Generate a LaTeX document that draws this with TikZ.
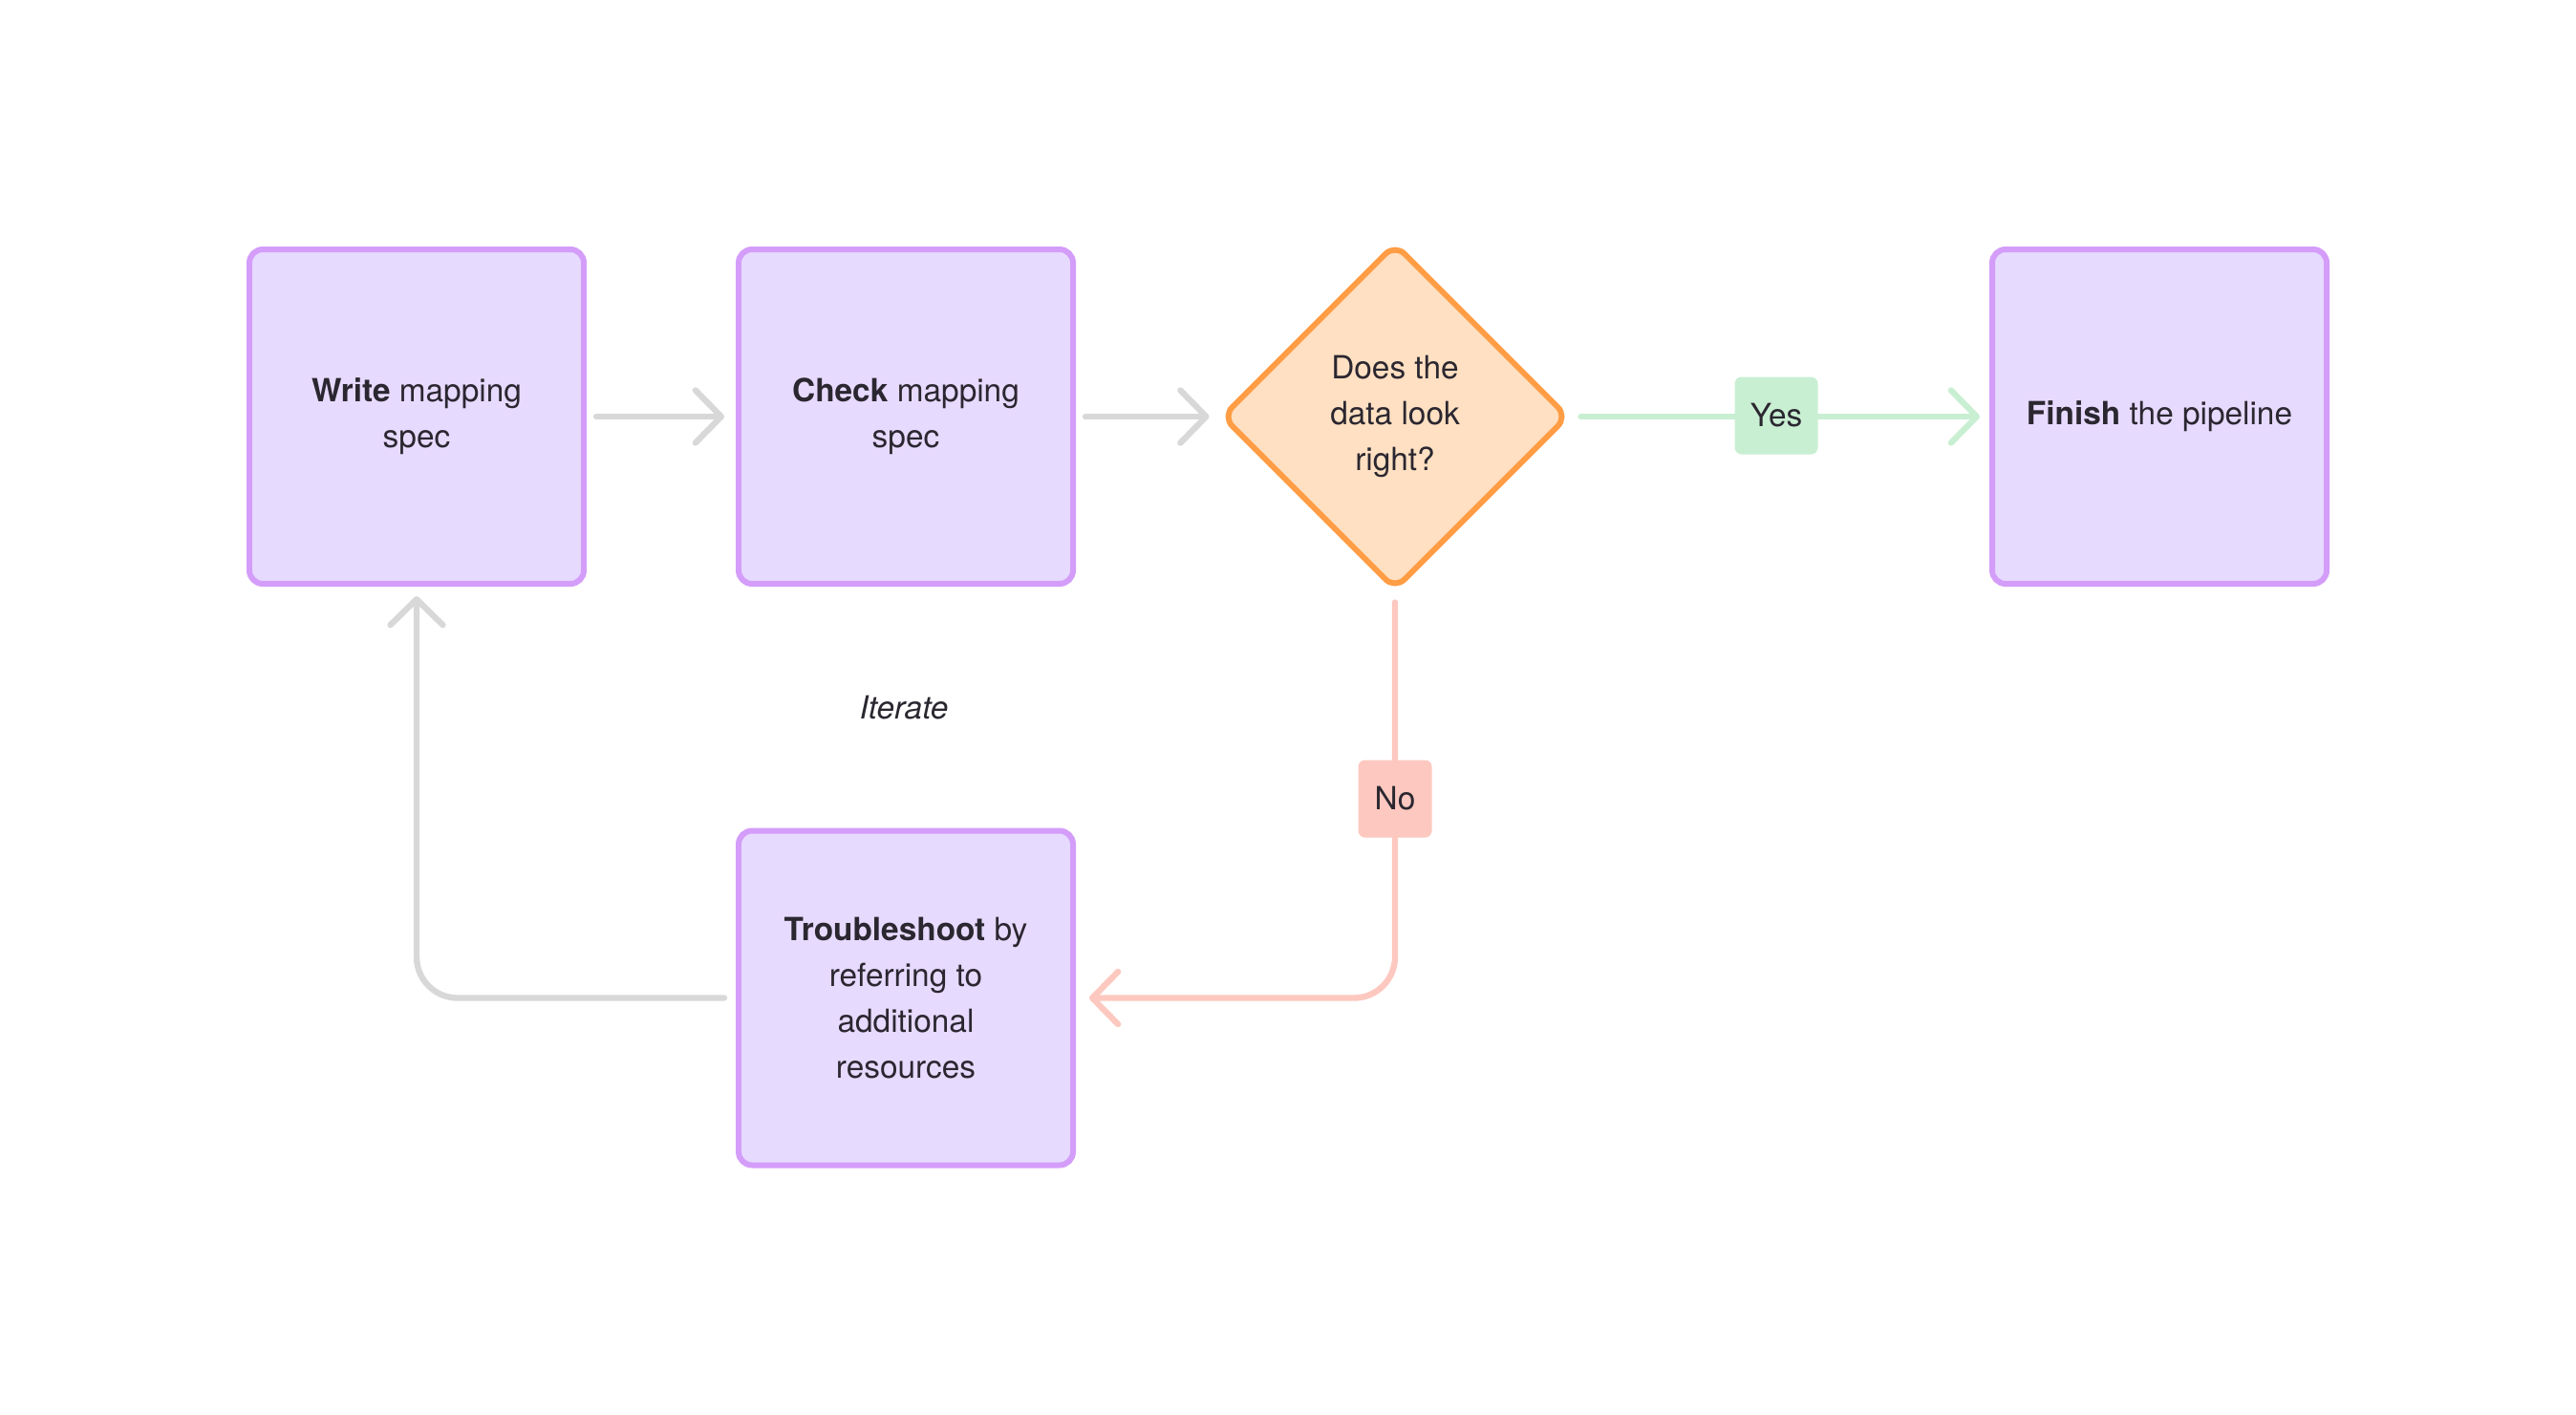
\documentclass[tikz,border=0pt]{standalone}
\usepackage{fontspec}
\setmainfont{TeX Gyre Heros}
\usetikzlibrary{arrows.meta,shapes.geometric}
\definecolor{boxfill}{HTML}{E7DAFF}
\definecolor{boxline}{HTML}{D49DF9}
\definecolor{askfill}{HTML}{FFE0C2}
\definecolor{askline}{HTML}{FF9D45}
\definecolor{yesfill}{HTML}{C9EFD3}
\definecolor{nofill}{HTML}{FDC8BF}
\definecolor{flowgray}{HTML}{D8D8D8}
\definecolor{ink}{HTML}{2B2730}
\begin{document}
\begin{tikzpicture}[
  stepbox/.style={draw=boxline,fill=boxfill,line width=1.7pt,rounded corners=4pt,
    minimum width=3.5cm,minimum height=3.5cm,align=center,text=ink,
    font=\fontsize{9.5}{13.7}\selectfont},
  askbox/.style={diamond,draw=askline,fill=askfill,line width=1.7pt,rounded corners=4pt,
    minimum width=3.63cm,minimum height=3.63cm,align=center,text=ink,
    font=\fontsize{9.5}{13.7}\selectfont},
  tag/.style={rounded corners=2pt,minimum height=0.81cm,text=ink,
    font=\fontsize{9.5}{13.7}\selectfont},
  flow/.style={line width=1.8pt,line cap=round,
    -{Straight Barb[length=0.27cm,width=0.55cm,line cap=round,line join=round]}}]
\fill[white] (0,0) rectangle (26.96,-14.80);
\useasboundingbox (0,0) rectangle (26.96,-14.80);
\node[stepbox] (write) at (4.36,-4.36) {\textbf{Write} mapping\\spec};
\node[stepbox] (check) at (9.48,-4.36) {\textbf{Check} mapping\\spec};
\node[askbox] (decide) at (14.60,-4.36) {Does the\\data look\\right?};
\node[stepbox] (finish) at (22.60,-4.36) {\textbf{Finish} the pipeline};
\node[stepbox] (trouble) at (9.48,-10.445) {\textbf{Troubleshoot} by\\referring to\\additional\\resources};
\node[text=ink,font=\fontsize{9.5}{13.7}\selectfont\itshape] (iterate) at (9.46,-7.41) {Iterate};
% connectors
\draw[flow,flowgray] ([xshift=0.1cm]write.east) -- ([xshift=-0.12cm]check.west);
\draw[flow,flowgray] ([xshift=0.1cm]check.east) -- ([xshift=-0.1cm]decide.west);
\draw[flow,yesfill] ([xshift=0.1cm]decide.east) -- ([xshift=-0.1cm]finish.west);
\draw[flow,nofill,rounded corners=0.43cm] ([yshift=-0.1cm]decide.south) |- ([xshift=0.14cm]trouble.east);
\draw[flow,flowgray,rounded corners=0.43cm] ([xshift=-0.12cm]trouble.west) -| ([yshift=-0.1cm]write.south);
% labels on the lines
\node[tag,fill=yesfill,minimum width=0.87cm] (yes) at (18.59,-4.35) {Yes};
\node[tag,fill=nofill,minimum width=0.77cm] (no) at (14.60,-8.36) {No};
\end{tikzpicture}
\end{document}
